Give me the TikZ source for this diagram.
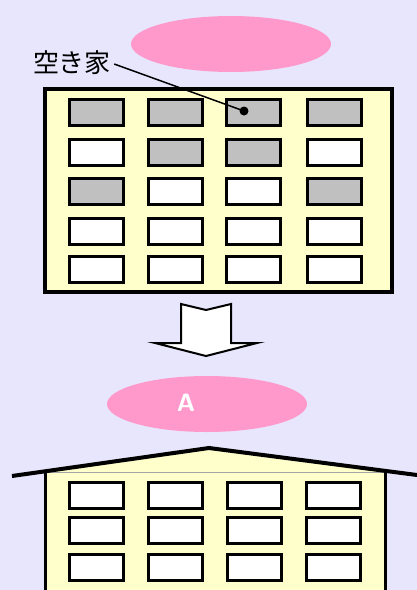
\documentclass[tikz,border=0pt]{standalone}
\usepackage{fontspec}
\newfontfamily\jpfont{Noto Sans CJK JP}
\usepackage{tikz}
\usetikzlibrary{shapes.geometric}

\definecolor{bgcol}{HTML}{E8E6FC}
\definecolor{pinkcol}{HTML}{FF99CC}
\definecolor{wallcol}{HTML}{FFFFCC}
\definecolor{emptycol}{HTML}{C0C0C0}

\begin{document}
\begin{tikzpicture}[x=1pt, y=-1pt,
			win/.style={draw, line width=3pt, fill=white, inner sep=0pt,
				minimum width=54pt, minimum height=26pt},
			vacant/.style={win, fill=emptycol},
			bubble/.style={ellipse, fill=pinkcol, inner sep=0pt,
				minimum width=200pt, minimum height=56pt},
			wall/.style={draw, line width=4pt, fill=wallcol},
			lbl/.style={font=\jpfont\fontsize{26pt}{30pt}\selectfont, inner sep=0pt}
			]
			\fill[bgcol] (0,0) rectangle (417,590);
			\useasboundingbox (0,0) rectangle (417,590);
			
			% before
			\node[bubble] (top) at (231,44) {};
			\draw[wall] (45,89) rectangle (392,292);
			\foreach \y [count=\r] in {112.5,152.5,191,231,269} {
				\foreach \x [count=\c] in {96.5,175.5,253.5,334.5} {
					\node[win] (w-\r-\c) at (\x,\y) {};
				}
			}
			\foreach \r/\c in {1/1,1/2,1/3,1/4,2/2,2/3,3/1,3/4}
				\node[vacant] at (w-\r-\c) {};
			\node[lbl] (akiya) at (72,63) {空き家};
			\coordinate (dot) at (244,111);
			\fill (dot) circle (4.5pt);
			\draw[line width=1.5pt] (akiya.east) ++(3,1) -- (dot);
			
			% arrow
			\draw[line width=2pt, fill=white, line join=miter]
				(181,304) -- (206,310) -- (231,304) -- (231,343) -- (257,343)
				-- (206,356) -- (155,343) -- (181,343) -- cycle;
			
			% after
			\node[bubble] (after) at (207,404) {};
			\node[font=\sffamily\bfseries\fontsize{25pt}{28pt}\selectfont, text=white]
				at (186,403) {A};
			\fill[wallcol] (45,592) -- (45,471.3) -- (209,448) -- (385,470.8) -- (385,592) -- cycle;
			\draw[gray!70, line width=0.8pt] (45,472) -- (385,472);
			\draw[line width=3pt] (45,592) -- (45,471.3);
			\draw[line width=3pt] (385,592) -- (385,470.8);
			\draw[line width=4pt] (12,476) -- (209,448) -- (417,475);
			\foreach \y [count=\r] in {495.5,530.5,567} {
				\foreach \x [count=\c] in {96.5,175.5,254.5,333.5} {
					\node[win] (v-\r-\c) at (\x,\y) {};
				}
			}
	\end{tikzpicture}
\end{document}
